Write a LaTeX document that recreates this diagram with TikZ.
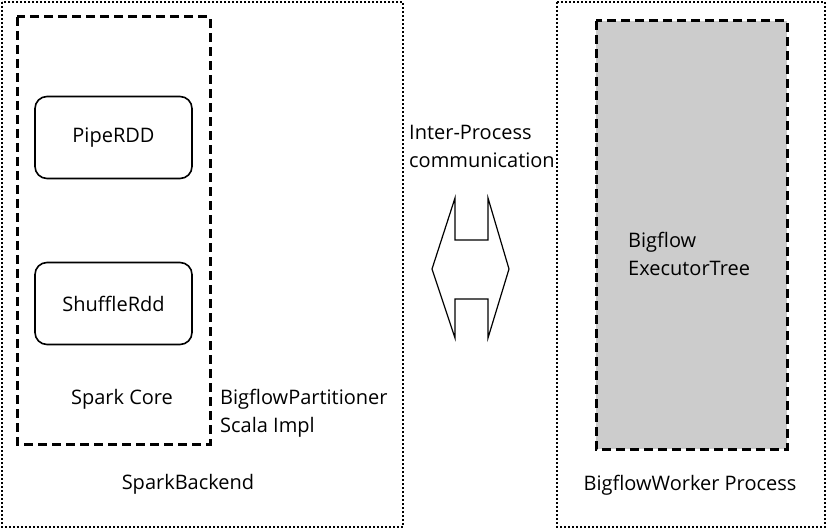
\documentclass[tikz,border=0pt]{standalone}
\usepackage{fontspec}
\setmainfont{Open Sans}
\begin{document}
\begin{tikzpicture}[x=1pt,y=-1pt,
    outerbox/.style={line width=2.5pt, dash pattern=on 2pt off 2pt},
    innerbox/.style={line width=3pt, dash pattern=on 9pt off 5pt},
    rdd/.style={draw, line width=1.6pt, rounded corners=12pt, minimum width=157pt,
                minimum height=82pt, font=\fontsize{20}{24}\selectfont},
    lbl/.style={font=\fontsize{20}{28}\selectfont, align=left, inner sep=0pt}]
    \useasboundingbox (0,0) rectangle (827,529);

    % spark side
    \draw[outerbox] (2,2) rectangle (403,527);
    \draw[innerbox] (17,17) rectangle (210,444);
    \node[rdd] (pipe) at (113.5,137.5) {PipeRDD};
    \node[rdd] (shuffle) at (113.5,303.5) {ShuffleRdd};
    \node[lbl] (core) at (122,399) {Spark Core};
    \node[lbl, anchor=west] (partitioner) at (220,413) {BigflowPartitioner\\Scala Impl};
    \node[lbl] (backend) at (188,484) {SparkBackend};

    % communication
    \node[lbl, anchor=west] (ipc) at (409,146) {Inter-Process\\communication};
    \draw[line width=1.2pt] (455,198) -- (455,240) -- (488,240) -- (488,198)
        -- (509,269) -- (488,338) -- (488,299) -- (455,299) -- (455,338)
        -- (432,269) -- cycle;

    % worker side
    \draw[outerbox] (557,2) rectangle (825,527);
    \draw[innerbox, fill=black!20] (596,21) rectangle (787,449);
    \node[lbl, anchor=west] (tree) at (628,254) {Bigflow\\ExecutorTree};
    \node[lbl] (worker) at (690,485) {BigflowWorker Process};
\end{tikzpicture}
\end{document}
